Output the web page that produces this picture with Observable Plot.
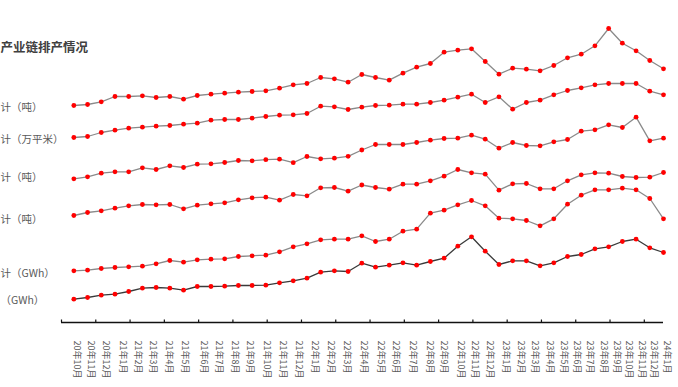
<!DOCTYPE html>
<html><head><meta charset="utf-8">
<script src="https://cdn.jsdelivr.net/npm/d3@7"></script>
<script src="https://cdn.jsdelivr.net/npm/@observablehq/plot@0.6"></script>
<style>body{margin:0;background:#fff} #chart svg{display:block}</style>
</head><body><div id="chart"></div>
<script>
const title = "产业链排产情况";
const months = ["20年10月","20年11月","20年12月","21年1月","21年2月","21年3月","21年4月","21年5月","21年6月","21年7月","21年8月","21年9月","21年10月","21年11月","21年12月","22年1月","22年2月","22年3月","22年4月","22年5月","22年6月","22年7月","22年8月","22年9月","22年10月","22年11月","22年12月","23年1月","23年2月","23年3月","23年4月","23年5月","23年6月","23年7月","23年8月","23年9月","23年10月","23年11月","23年12月","24年1月"];
// where each month label sits along the point sequence
const monthAt = [0,1.05,2.12,3.34,4.45,5.55,6.69,7.86,9.25,10.39,11.51,12.66,13.87,15.04,16.18,17.35,18.57,19.71,20.93,22.19,23.28,24.5,25.72,26.77,27.99,29.03,30.12,31.27,32.36,33.41,34.48,35.5,36.5,37.4,38.44,39.42,40.27,41.2,42.1,43.07];
const seriesNames = ["计（吨）","计（万平米）","计（吨）","计（吨）","计（GWh）","（GWh）"];
// values (relative level of each line)
const seriesA = [217,218,220.7,226,226,226.7,225,226,223.3,227,228.3,229.3,230.3,231,231.7,234.3,237.7,239,245,243.7,240.3,248,245,242.3,249.3,255.3,259,270.3,272.3,273.7,261,248.3,254.3,253.3,251.7,257,264.7,268.3,276.7,294,279.3,271.7,262,253.7];
const seriesB = [185,186,190,192.3,194.3,195.3,196.3,197,198.3,199.3,202.3,203,203,204.3,206,207.3,207.7,209,216.3,215.7,213,215.3,217,217.3,218.3,218.3,220,222.3,225.3,228.3,220,225.7,213.3,220,222.3,227.7,232,234.7,237.7,239,239,239,231.3,227.7];
const seriesC = [143.7,145.7,149.3,150.7,150.7,154.7,153,156.7,155,158.3,158.7,160,162,161.7,162.8,163.3,159.8,166,163.7,164.3,166.2,172.5,178,178,178,180,182.3,184,184.3,187.3,183.3,174.3,180,177,176.7,180.7,183,191.3,192.7,197.7,195,205.3,181.7,184.3];
const seriesD = [107,110,111.7,114.3,116.7,118,117.7,118,113.7,117.3,118.7,119.7,122.7,124.7,125.3,122.3,128,126.7,134.7,135,131.3,137.5,135,133.3,138.3,138.3,141.7,146.3,153,149.7,148.3,132.3,138.7,139,133.7,133.7,141.7,147.7,149.7,149.3,146,145,145.3,150];
const seriesE = [51.7,52.3,54,55,55.7,56.3,58.7,62,60.3,62.7,63.3,63.7,66,66.7,67.3,70.7,75.7,78.7,82.7,83.3,83.3,86.7,81,83.3,91.3,93.3,109.3,112.3,117.7,122,116.7,104.3,103.7,102,96.7,103.7,118.3,127.3,132.7,132.7,134.3,132.7,124,103.7];
const seriesF = [23.3,25,27.3,28.3,31,34.3,35,34.3,32.3,36,36,36.3,37,37,37.3,39.7,41.7,44.3,50.3,51.7,51,59.3,55.3,57.3,59.7,57.3,61,64.3,76.3,85.7,71.3,58,61.7,61.7,56.7,59.7,66,68,73.7,75.7,81,83.3,74.7,70];

const allSeries = [seriesA, seriesB, seriesC, seriesD, seriesE, seriesF];
const lineColors = ["#8a8a8a","#8a8a8a","#8a8a8a","#8a8a8a","#8a8a8a","#3a3a3a"];
const labelDy = [2, 2, -1.5, 4, 2.5, 1.5];

const nPts = seriesA.length;
const xDomain = [-0.9, nPts - 1];
const axisTicks = d3.range(0, 18).map(k => xDomain[0] + 2.5 * k);
const ML = 61;

const marks = [];
marks.push(Plot.ruleY([0], {x1: xDomain[0], x2: xDomain[1], stroke: "#111", strokeWidth: 1.4}));
marks.push(Plot.ruleX(axisTicks, {x: d => d, y1: 0, y2: 2.5, stroke: "#111", strokeWidth: 1.2}));
allSeries.forEach((s, k) => {
  const data = s.map((v, i) => ({i, v}));
  marks.push(Plot.line(data, {x: "i", y: "v", stroke: lineColors[k], strokeWidth: 1.3}));
  marks.push(Plot.dot(data, {x: "i", y: "v", r: 2.4, fill: "#ff0000", stroke: "none"}));
  marks.push(Plot.text([{name: seriesNames[k], v: s[0]}], {
    y: "v", text: "name", frameAnchor: "left", textAnchor: "start",
    dx: -ML, dy: labelDy[k], fontSize: 10.5, fill: "#595959"
  }));
});
marks.push(Plot.text(months, {
  x: (d, i) => monthAt[i], text: d => d,
  frameAnchor: "bottom", dy: 18, rotate: 90, textAnchor: "start",
  fontSize: 9, fill: "#595959"
}));
marks.push(Plot.text([title], {
  text: d => d, frameAnchor: "top-left", textAnchor: "start", dx: -ML, dy: 43,
  fontSize: 12.5, fontWeight: "bold", fill: "#404040"
}));

const chart = Plot.plot({
  width: 678, height: 387,
  marginLeft: ML, marginRight: 15, marginTop: 0, marginBottom: 65,
  x: {domain: xDomain, axis: null},
  y: {domain: [0, 322], axis: null},
  style: {fontFamily: "'Noto Sans CJK SC', 'Noto Sans', sans-serif", background: "#fff", overflow: "visible"},
  marks
});
document.getElementById("chart").append(chart);
</script>
</body></html>
